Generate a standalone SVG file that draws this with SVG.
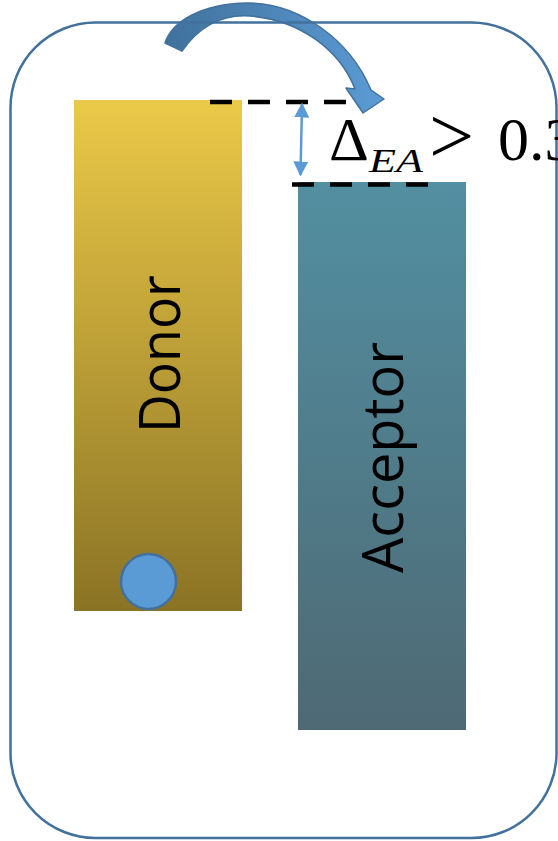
<svg xmlns="http://www.w3.org/2000/svg" width="558" height="841" viewBox="0 0 558 841">
  <defs>
    <linearGradient id="gDonor" x1="0" y1="0" x2="0" y2="1">
      <stop offset="0" stop-color="#EBC948"/>
      <stop offset="1" stop-color="#8B7325"/>
    </linearGradient>
    <linearGradient id="gAcc" x1="0" y1="0" x2="0" y2="1">
      <stop offset="0" stop-color="#528FA1"/>
      <stop offset="1" stop-color="#4E6974"/>
    </linearGradient>
    <linearGradient id="gArrow" x1="0" y1="0" x2="1" y2="0">
      <stop offset="0" stop-color="#41719C"/>
      <stop offset="1" stop-color="#5B9BD5"/>
    </linearGradient>
    <marker id="ah" viewBox="0 0 10 10" refX="9" refY="5" markerWidth="6" markerHeight="6" orient="auto-start-reverse" markerUnits="strokeWidth">
      <path d="M0,0 L10,5 L0,10 Z" fill="#5B9BD5"/>
    </marker>
    <style>
      .bar-label { font-family: "Open Sans", "Noto Sans", sans-serif; font-size: 56px; fill: #000; }
      .dash { stroke: #000; stroke-width: 4.5; stroke-dasharray: 22 16; fill: none; }
      .math { font-family: "Liberation Serif", "DejaVu Serif", serif; fill: #000; }
    </style>
  </defs>

  <rect width="558" height="841" fill="#FFFFFF"/>

  <g id="donor">
    <rect x="74" y="100" width="168" height="511" fill="url(#gDonor)"/>
    <text class="bar-label" transform="translate(180,354) rotate(-90)" text-anchor="middle" textLength="158" lengthAdjust="spacingAndGlyphs">Donor</text>
  </g>

  <g id="acceptor">
    <rect x="298" y="182" width="168" height="548" fill="url(#gAcc)"/>
    <text class="bar-label" transform="translate(403,457.5) rotate(-90)" text-anchor="middle" textLength="231" lengthAdjust="spacingAndGlyphs">Acceptor</text>
  </g>

  <g id="hole">
    <circle cx="148.5" cy="581.5" r="27.5" fill="#5B9BD5" stroke="#41719C" stroke-width="2.5"/>
  </g>

  <g id="connectors">
    <path id="transfer-arrow" d="M165,43 C172,22 200,4 247,3 C300,3 350,40 371,90 L384,99 L363,113 L346,88 L355,89 C340,50 300,20 250,16 C220,14 198,28 182,51 Z" fill="url(#gArrow)" stroke="#41719C" stroke-width="1.5" stroke-linejoin="round"/>
    <line class="dash" x1="210" y1="102" x2="347" y2="102"/>
    <line class="dash" x1="292" y1="184.5" x2="430" y2="184.5"/>
    <line id="gap-arrow" x1="302" y1="104" x2="300.5" y2="175" stroke="#5B9BD5" stroke-width="2.5" marker-start="url(#ah)" marker-end="url(#ah)"/>
  </g>

  <g id="frame">
    <rect x="10.5" y="22.5" width="546" height="815.5" rx="85" ry="85" fill="none" stroke="#41719C" stroke-width="2.5"/>
  </g>

  <g id="gap-label">
    <text class="math" font-size="62"><tspan x="329" y="160">Δ</tspan><tspan x="369" y="172" font-size="34" font-style="italic" textLength="54" lengthAdjust="spacingAndGlyphs">EA</tspan><tspan x="429" y="163" font-size="80">&gt;</tspan><tspan x="498" y="160">0.3</tspan></text>
  </g>
</svg>
